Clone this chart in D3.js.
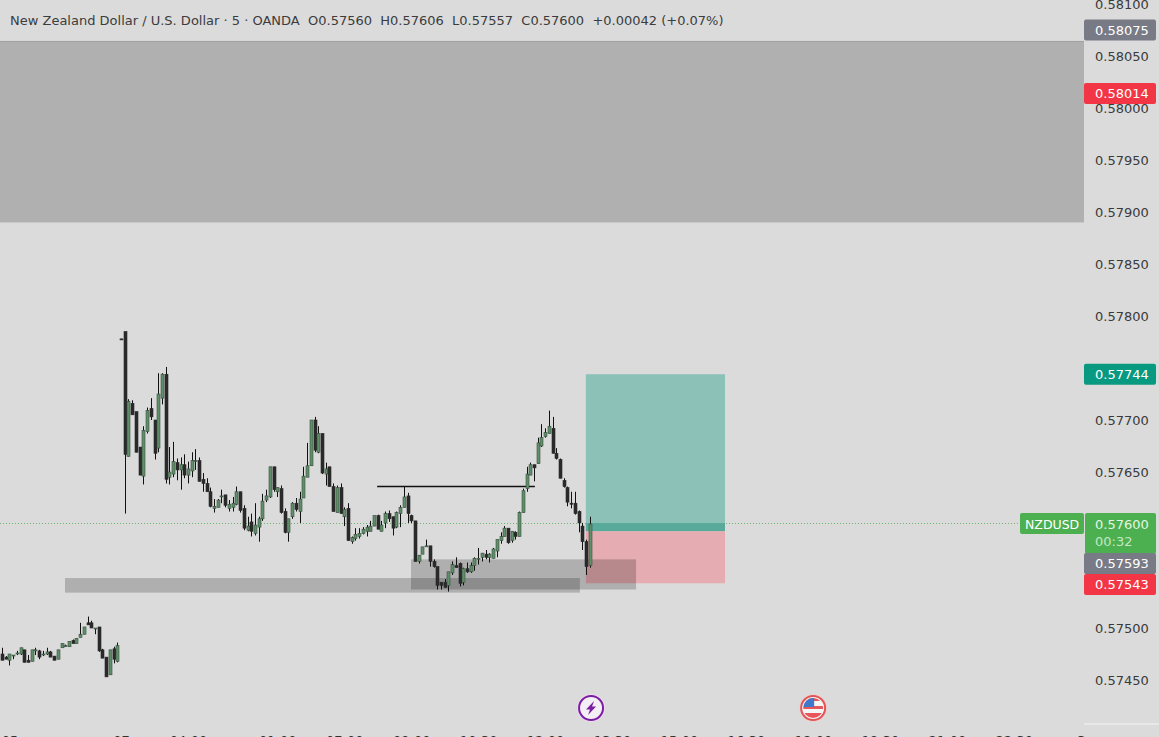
<!DOCTYPE html>
<html><head><meta charset="utf-8">
<script src="https://cdn.jsdelivr.net/npm/d3@7"></script>
<style>html,body{margin:0;padding:0;background:#dbdbdb;overflow:hidden}svg{display:block}text{font-family:"DejaVu Sans",sans-serif}</style>
</head><body><div id="chart"></div>
<script>
// Prices in 1e-5 units above 0.57; bar index runs from -33 to 125
const opens=[475,472,469,474,475,475,479,469,468,479,478,475,475,477,473,470,481,483,482,488,485,491,494,505,505,500,501,479,472,455,480,468,778,
785,665,716,708,674,646,689,711,700,673,
721,744,645,648,659,652,657,647,651,661,
661,643,639,631,615,616,627,628,615,616,
619,631,615,594,602,591,597,605,623,626,
655,631,634,612,592,607,620,612,625,645,
656,700,669,687,648,655,636,611,635,607,
615,583,586,588,591,593,593,598,608,593,
601,610,607,597,610,616,627,608,603,564,
571,579,579,564,559,544,544,541,553,560,
562,544,557,554,560,567,568,571,568,567,
574,584,588,596,584,592,588,611,634,647,
657,658,675,684,687,692,668,662,642,635,
620,620,612,598,583,560];
const highs=[481,473,475,474,478,481,479,474,479,481,479,478,481,478,473,479,485,484,487,489,490,505,501,511,507,500,501,480,472,479,482,486,778,
785,720,719,708,674,694,712,721,700,745,
745,751,674,679,663,664,667,660,669,672,
664,649,644,635,624,624,633,628,623,626,
636,631,618,607,610,620,607,629,633,655,
655,635,637,615,605,621,625,631,655,678,
700,703,694,687,659,655,639,637,639,616,
620,588,596,596,597,599,603,608,609,603,
612,613,607,612,618,636,630,609,603,570,
578,585,579,566,559,544,547,554,564,568,
563,558,563,563,568,577,572,575,572,577,
585,592,598,596,593,593,612,634,655,659,
657,683,696,692,709,703,673,663,644,636,
631,631,613,601,585,607];
const lows=[469,470,464,470,474,474,467,467,468,474,470,473,474,472,469,470,481,482,482,485,485,491,494,503,500,494,477,471,453,455,466,467,777,
610,665,705,669,647,638,687,700,662,669,
715,639,638,645,642,633,644,639,645,652,
641,631,631,616,611,616,620,616,612,612,
618,611,594,593,588,589,583,603,621,625,
631,626,610,591,583,605,612,601,625,645,
656,669,668,648,637,636,612,611,610,598,
584,581,584,586,590,588,593,598,595,593,
596,602,589,596,597,616,601,601,564,562,
571,578,559,558,537,537,539,535,551,558,
540,541,553,553,555,561,564,566,563,567,
568,581,588,581,582,585,588,611,631,647,
641,658,674,683,687,668,662,644,635,617,
615,609,592,575,551,558];
const closes=[469,470,475,474,476,481,467,467,479,479,472,475,477,472,469,479,485,483,487,485,490,494,501,503,500,500,478,471,453,479,470,483,777,
667,718,705,669,647,690,709,703,668,725,
744,643,650,660,652,657,647,653,661,661,
641,639,631,617,617,623,627,618,619,620,
631,613,596,598,593,599,605,622,627,655,
633,635,611,592,605,620,614,624,646,656,
700,671,687,649,653,636,612,635,610,614,
584,587,590,591,595,597,598,608,595,599,
610,605,596,611,616,626,610,603,564,570,
578,579,564,559,541,541,539,554,561,558,
543,557,554,560,567,567,572,568,571,576,
585,588,596,582,593,588,611,632,648,657,
654,678,683,688,694,668,663,644,636,621,
619,610,601,583,559,600];

const priceTicks=[0.581,0.5805,0.58,0.5795,0.579,0.5785,0.578,0.5775,0.577,0.5765,0.576,0.5755,0.575,0.5745];
const timeLabels=["05","07","04:00","01:00","07:00","09:00","10:30","12:00","13:30","15:00","16:30","18:00","19:30","21:00","22:30","3"];
const timeBars=[-31,-1,17,41,59,77,95,113,131,149,167,185,203,221,239,257];
const header="New Zealand Dollar / U.S. Dollar · 5 · OANDA  O0.57560  H0.57606  L0.57557  C0.57600  +0.00042 (+0.07%)";
const bigZone=[0.58064,0.5789];
const longZone={bars:[-16.2,122.2],prices:[0.57548,0.57534]};
const boxZone={bars:[76.8,137.3],prices:[0.57566,0.57537]};
const levelLine={bars:[67.7,110.1],price:0.57636};
const position={bars:[123.8,161.2],target:0.57744,entry:0.57593,stop:0.57543,last:0.576};
const priceLabels=[{t:"0.58075",v:0.58075,c:"#787b86"},{t:"0.58014",v:0.58014,c:"#f23645"},{t:"0.57744",v:0.57744,c:"#089981"}];
const px=v=>0.57+v/1e5;

const W=1159,H=737,plotW=1084;
const x=d3.scaleLinear().domain([-33,125]).range([2.5,590.3]);
const y=d3.scaleLinear().domain([0.58,0.575]).range([108,628]);
const svg=d3.select("#chart").append("svg").attr("width",W).attr("height",H);
svg.append("rect").attr("width",W).attr("height",H).attr("fill","#dbdbdb");

svg.append("rect").attr("x",0).attr("width",plotW).attr("y",y(bigZone[0])).attr("height",y(bigZone[1])-y(bigZone[0])).attr("fill","#b0b0b0");
svg.append("line").attr("x1",0).attr("x2",plotW).attr("y1",y(bigZone[0])).attr("y2",y(bigZone[0])).attr("stroke","#9f9f9f");

svg.append("line").attr("x1",0).attr("x2",1020).attr("y1",y(position.last)-.5).attr("y2",y(position.last)-.5)
 .attr("stroke","#4caf50").attr("stroke-dasharray","1 2").attr("opacity",.8);

const pX=x(position.bars[0]),pW=x(position.bars[1])-pX;
svg.append("rect").attr("x",pX).attr("width",pW).attr("y",y(position.target)).attr("height",y(position.entry)-y(position.target)).attr("fill","#8bc1b7");
svg.append("rect").attr("x",pX).attr("width",pW).attr("y",y(position.last)-1).attr("height",y(position.entry)-y(position.last)+1).attr("fill","#5aaa9b");
svg.append("rect").attr("x",pX).attr("width",pW).attr("y",y(position.entry)).attr("height",y(position.stop)-y(position.entry)).attr("fill","#e5acb1");

[longZone,boxZone].forEach(z=>{
 svg.append("rect").attr("x",x(z.bars[0])).attr("width",x(z.bars[1])-x(z.bars[0])).attr("y",y(z.prices[0])).attr("height",y(z.prices[1])-y(z.prices[0]))
  .attr("fill","#000").attr("fill-opacity",.2);
});
svg.append("line").attr("x1",x(levelLine.bars[0])).attr("x2",x(levelLine.bars[1])).attr("y1",y(levelLine.price)).attr("y2",y(levelLine.price)).attr("stroke","#111").attr("stroke-width",1.4);

const candles=opens.map((o,i)=>({i:i-33,o:px(o),h:px(highs[i]),l:px(lows[i]),c:px(closes[i])}));
const g=svg.append("g").selectAll("g").data(candles).join("g");
const cx=d=>Math.round(x(d.i)-.5)+.5;
g.append("line").attr("x1",cx).attr("x2",cx).attr("y1",d=>y(d.h)).attr("y2",d=>y(d.l)).attr("stroke","#111");
g.append("rect").attr("x",d=>cx(d)-1.5).attr("width",3)
 .attr("y",d=>y(Math.max(d.o,d.c))).attr("height",d=>Math.max(1,Math.abs(y(d.o)-y(d.c))))
 .attr("fill",d=>d.c>=d.o?"#5f8f69":"#2a2a2a").attr("stroke",d=>d.c>=d.o?"#3a4d40":"#2a2a2a").attr("stroke-width",.6);

const axis=d3.axisRight(y).tickValues(priceTicks).tickFormat(d3.format(".5f")).tickSize(0).tickPadding(0);
const ag=svg.append("g").attr("transform","translate(1095,0)").call(axis);
ag.select(".domain").remove();
ag.selectAll("text").attr("fill","#3a3a3a").style("font-size","13px").style("font-family",'"DejaVu Sans",sans-serif');

svg.append("g").selectAll("text").data(timeLabels).join("text").attr("x",(d,i)=>x(timeBars[i])).attr("y",745)
 .attr("text-anchor","middle").attr("fill","#333").style("font-size","13px").text(d=>d);
svg.append("line").attr("x1",1084).attr("x2",W).attr("y1",724).attr("y2",724).attr("stroke","#f4f4f4");

svg.append("text").attr("x",10).attr("y",24.5).attr("fill","#3c3c3c").style("font-size","13px").style("white-space","pre").text(header);

function tag(x0,w,y0,h,c,t,col,tx,ty,size){
 svg.append("rect").attr("x",x0).attr("y",y0).attr("width",w).attr("height",h).attr("rx",2).attr("fill",c);
 if(t) svg.append("text").attr("x",tx).attr("y",ty).attr("fill",col).style("font-size",size||"13px").text(t);
}
priceLabels.forEach(l=>tag(1084,72,y(l.v)-10.5,21,l.c,l.t,"#fff",1095,y(l.v)+5));
tag(1020,64,513,21,"#4caf50","NZDUSD","#fff",1025,528.5,"12.5px");
tag(1085,71,513,41,"#4caf50","0.57600","#e4f5e4",1095,528.5);
svg.append("text").attr("x",1095).attr("y",546).attr("fill","#c4e8c5").style("font-size","13px").text("00:32");
tag(1084,72,553,21,"#787b86","0.57593","#fff",1095,568);
tag(1084,72,574,21,"#f23645","0.57543","#fff",1095,588.5);

const ix1=x(125.2),ix2=x(184.9),iy=708;
svg.append("circle").attr("cx",ix1).attr("cy",iy).attr("r",14).attr("fill","#ecd9ee");
svg.append("circle").attr("cx",ix1).attr("cy",iy).attr("r",12).attr("fill","#f4eef5").attr("stroke","#7b1fa2").attr("stroke-width",2);
svg.append("path").attr("transform",`translate(${ix1},${iy})`).attr("d","M3,-7 L-5,1.5 L-1,1.5 L-3,7 L5,-1.5 L1,-1.5 Z").attr("fill","#7b1fa2");
const defs=svg.append("defs");
defs.append("clipPath").attr("id","fc").append("circle").attr("cx",ix2).attr("cy",iy).attr("r",10);
svg.append("circle").attr("cx",ix2).attr("cy",iy).attr("r",14).attr("fill","#eed0d0");
svg.append("circle").attr("cx",ix2).attr("cy",iy).attr("r",12).attr("fill","#f5f5f5").attr("stroke","#e05555").attr("stroke-width",2);
const fl=svg.append("g").attr("clip-path","url(#fc)");
[-10,-2,5].forEach(s=>fl.append("rect").attr("x",ix2-10).attr("width",20).attr("y",iy+s).attr("height",s===5?6:3).attr("fill","#e8555a"));
fl.append("rect").attr("x",ix2-10).attr("y",iy-10).attr("width",11).attr("height",9).attr("fill","#3f78c8");
</script></body></html>
